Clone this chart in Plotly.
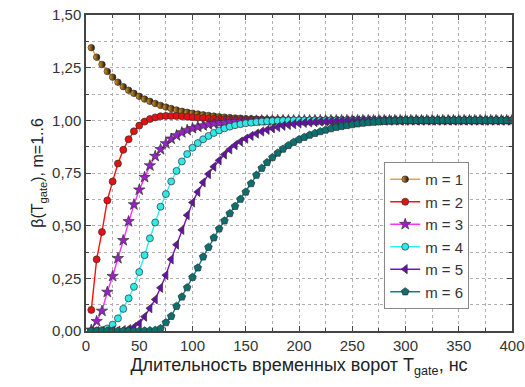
import plotly.graph_objects as go

T_gate = list(range(5, 405, 5))

m1 = [1.345, 1.300, 1.265, 1.232, 1.205, 1.181, 1.160, 1.143, 1.128, 1.114,
      1.101, 1.090, 1.080, 1.071, 1.063, 1.056, 1.049, 1.043, 1.038, 1.034,
      1.030, 1.026, 1.023, 1.020, 1.017, 1.015, 1.013, 1.011, 1.010, 1.008,
      1.007, 1.006, 1.005, 1.004, 1.004, 1.003, 1.003, 1.002, 1.002, 1.002,
      1.001, 1.001, 1.001, 1.001, 1.001, 1.001, 1.001, 1.001, 1.001, 1.001,
      1.001, 1.001, 1.000, 1.000, 1.000, 1.000, 1.000, 1.000, 1.000, 1.000,
      1.000, 1.000, 1.000, 1.000, 1.000, 1.000, 1.000, 1.000, 1.000, 1.000,
      1.000, 1.000, 1.000, 1.000, 1.000, 1.000, 1.000, 1.000, 1.000, 1.000]

m2 = [0.100, 0.340, 0.470, 0.620, 0.710, 0.795, 0.860, 0.910, 0.948, 0.975,
      0.994, 1.006, 1.014, 1.019, 1.021, 1.021, 1.020, 1.019, 1.017, 1.015,
      1.013, 1.011, 1.009, 1.008, 1.006, 1.005, 1.004, 1.003, 1.002, 1.002,
      1.001, 1.001, 1.001, 1.000, 1.000, 1.000, 1.000, 1.000, 1.000, 1.000,
      1.000, 1.000, 1.000, 1.000, 1.000, 1.000, 1.000, 1.000, 1.000, 1.000,
      1.000, 1.000, 1.000, 1.000, 1.000, 1.000, 1.000, 1.000, 1.000, 1.000,
      1.000, 1.000, 1.000, 1.000, 1.000, 1.000, 1.000, 1.000, 1.000, 1.000,
      1.000, 1.000, 1.000, 1.000, 1.000, 1.000, 1.000, 1.000, 1.000, 1.000]

m3 = [0.005, 0.046, 0.095, 0.185, 0.260, 0.345, 0.430, 0.520, 0.600, 0.670,
      0.730, 0.785, 0.830, 0.862, 0.890, 0.912, 0.928, 0.942, 0.953, 0.962,
      0.969, 0.975, 0.980, 0.985, 0.988, 0.991, 0.993, 0.995, 0.996, 0.997,
      0.998, 0.998, 0.999, 0.999, 1.000, 1.000, 1.000, 1.000, 1.000, 1.000,
      1.000, 1.000, 1.000, 1.000, 1.000, 1.000, 1.000, 1.000, 1.000, 1.000,
      1.000, 1.000, 1.000, 1.000, 1.000, 1.000, 1.000, 1.000, 1.000, 1.000,
      1.000, 1.000, 1.000, 1.000, 1.000, 1.000, 1.000, 1.000, 1.000, 1.000,
      1.000, 1.000, 1.000, 1.000, 1.000, 1.000, 1.000, 1.000, 1.000, 1.000]

m4 = [0.000, 0.001, 0.004, 0.012, 0.030, 0.060, 0.105, 0.155, 0.210, 0.280,
      0.360, 0.440, 0.515, 0.590, 0.650, 0.710, 0.760, 0.805, 0.840, 0.870,
      0.892, 0.910, 0.926, 0.940, 0.952, 0.962, 0.970, 0.977, 0.982, 0.986,
      0.989, 0.992, 0.994, 0.996, 0.997, 0.998, 0.999, 0.999, 1.000, 1.000,
      1.000, 1.000, 1.000, 1.000, 1.000, 1.000, 1.000, 1.000, 1.000, 1.000,
      1.000, 1.000, 1.000, 1.000, 1.000, 1.000, 1.000, 1.000, 1.000, 1.000,
      1.000, 1.000, 1.000, 1.000, 1.000, 1.000, 1.000, 1.000, 1.000, 1.000,
      1.000, 1.000, 1.000, 1.000, 1.000, 1.000, 1.000, 1.000, 1.000, 1.000]

m5 = [0.000, 0.000, 0.000, 0.000, 0.001, 0.002, 0.004, 0.009, 0.018, 0.036,
      0.068, 0.108, 0.150, 0.205, 0.265, 0.340, 0.410, 0.480, 0.550, 0.610,
      0.660, 0.705, 0.745, 0.780, 0.810, 0.838, 0.862, 0.882, 0.899, 0.913,
      0.926, 0.937, 0.947, 0.955, 0.962, 0.968, 0.974, 0.978, 0.982, 0.985,
      0.988, 0.990, 0.992, 0.994, 0.995, 0.996, 0.997, 0.998, 0.999, 0.999,
      1.000, 1.000, 1.000, 1.000, 1.000, 1.000, 1.000, 1.000, 1.000, 1.000,
      1.000, 1.000, 1.000, 1.000, 1.000, 1.000, 1.000, 1.000, 1.000, 1.000,
      1.000, 1.000, 1.000, 1.000, 1.000, 1.000, 1.000, 1.000, 1.000, 1.000]

m6 = [0.000, 0.000, 0.000, 0.000, 0.000, 0.000, 0.000, 0.000, 0.000, 0.000,
      0.001, 0.002, 0.004, 0.012, 0.040, 0.070, 0.118, 0.162, 0.206, 0.255,
      0.300, 0.352, 0.398, 0.443, 0.485, 0.523, 0.558, 0.592, 0.626, 0.660,
      0.700, 0.740, 0.773, 0.800, 0.824, 0.845, 0.864, 0.881, 0.896, 0.909,
      0.920, 0.930, 0.939, 0.947, 0.954, 0.961, 0.967, 0.972, 0.976, 0.980,
      0.984, 0.987, 0.990, 0.992, 0.994, 0.996, 0.997, 0.998, 0.999, 1.000,
      1.000, 1.000, 1.000, 1.000, 1.000, 1.000, 1.000, 1.000, 1.000, 1.000,
      1.000, 1.000, 1.000, 1.000, 1.000, 1.000, 1.000, 1.000, 1.000, 1.000]

names = ["m = 1", "m = 2", "m = 3", "m = 4", "m = 5", "m = 6"]
series = [m1, m2, m3, m4, m5, m6]

styles = [
    dict(line="#e8a040", fill="#f0a020", symbol="circle", size=6.5, grad=True),
    dict(line="#ff1010", fill="#e81010", symbol="circle", size=7, grad=False),
    dict(line="#ff30ff", fill="#9a20c8", symbol="star", size=8.5, grad=False),
    dict(line="#30f0f0", fill="#30e8e8", symbol="circle", size=7, grad=False),
    dict(line="#7a10c0", fill="#6a10a8", symbol="triangle-left", size=8, grad=False),
    dict(line="#108080", fill="#0a7070", symbol="pentagon", size=8, grad=False),
]

fig = go.Figure()
for nm, ys, st in zip(names, series, styles):
    marker = dict(symbol=st["symbol"], size=st["size"], color=st["fill"],
                  line=dict(color="#303030", width=0.7))
    if st["grad"]:
        marker["gradient"] = dict(type="horizontal", color="#101010")
    fig.add_trace(go.Scatter(x=T_gate, y=ys, name=nm, mode="lines+markers",
                             line=dict(color=st["line"], width=1.4),
                             marker=marker))

grid = dict(showgrid=True, gridcolor="#b0b0b0", griddash="dot", gridwidth=1)
fig.update_layout(
    width=525, height=387,
    margin=dict(l=86, r=13, t=15, b=56, autoexpand=False),
    paper_bgcolor="white", plot_bgcolor="white",
    separators=", ",
    font=dict(family="Liberation Sans, Arial, sans-serif", color="#333333", size=14),
    showlegend=True,
    legend=dict(x=0.70, y=0.535, xanchor="left", yanchor="top",
                bgcolor="white", bordercolor="#888888", borderwidth=1,
                font=dict(size=15, color="#333333"), tracegroupgap=0,
                itemwidth=30),
    xaxis=dict(range=[0, 400], tickmode="linear", tick0=0, dtick=50,
               automargin=False,
               ticks="inside", ticklen=5, tickcolor="#444", tickwidth=1,
               showline=True, linecolor="#444444", linewidth=1.5, mirror="ticks",
               zeroline=False,
               minor=dict(dtick=25, ticks="inside", ticklen=3, tickcolor="#444",
                          showgrid=True, gridcolor="#b0b0b0", griddash="dot"),
               tickfont=dict(size=15, color="#333333"),
               title=dict(text="Длительность временных ворот T<sub>gate</sub>, нс",
                          font=dict(size=18, color="#222222"), standoff=6),
               **grid),
    yaxis=dict(range=[0, 1.5], tickmode="linear", tick0=0, dtick=0.25,
               tickformat=".2f", automargin=False,
               ticks="inside", ticklen=5, tickcolor="#444", tickwidth=1,
               showline=True, linecolor="#444444", linewidth=1.5, mirror="ticks",
               zeroline=False,
               minor=dict(dtick=0.125, ticks="inside", ticklen=3, tickcolor="#444",
                          showgrid=True, gridcolor="#b0b0b0", griddash="dot"),
               tickfont=dict(size=15, color="#333333"),
               title=dict(text="β(T<sub>gate</sub>), m=1..6",
                          font=dict(size=16, color="#222222"), standoff=4),
               **grid),
)

fig.write_html("out.html")
